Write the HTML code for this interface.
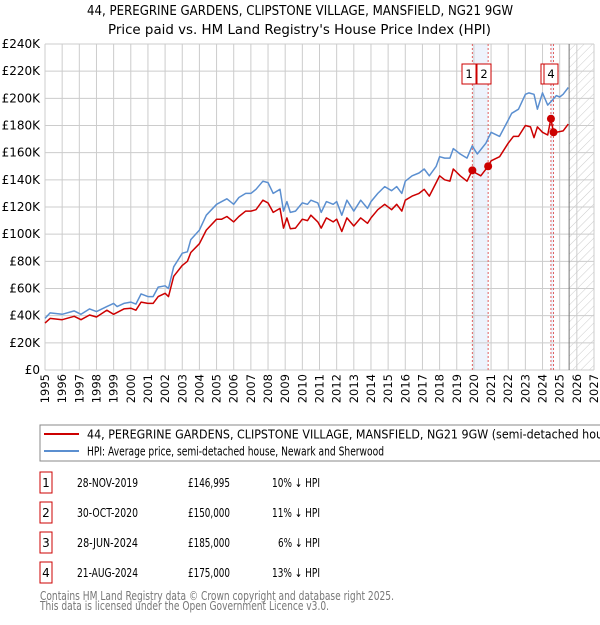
<!DOCTYPE html>
<html><head><meta charset="utf-8"><style>
body{margin:0;background:#fff;font-family:"Liberation Sans","DejaVu Sans",sans-serif;}
svg text{font-family:"DejaVu Sans","Liberation Sans",sans-serif;}
</style></head><body>
<svg id="c" width="600" height="620" xmlns="http://www.w3.org/2000/svg">
<defs><pattern id="hatch" width="6" height="6" patternUnits="userSpaceOnUse" patternTransform="rotate(45)"><line x1="0" y1="0" x2="0" y2="6" stroke="#ccc" stroke-width="1"/></pattern></defs>
<text x="87" y="15" font-size="13" textLength="426" lengthAdjust="spacingAndGlyphs">44, PEREGRINE GARDENS, CLIPSTONE VILLAGE, MANSFIELD, NG21 9GW</text>
<text x="108" y="34" font-size="13" textLength="383" lengthAdjust="spacingAndGlyphs">Price paid vs. HM Land Registry's House Price Index (HPI)</text>
<g id="plot"></g>
<rect x="40" y="425" width="570" height="36" fill="#fff" stroke="#888"/>
<line x1="44" y1="434" x2="79" y2="434" stroke="#cc0000" stroke-width="2"/>
<text x="87" y="438.5" font-size="12" textLength="533" lengthAdjust="spacingAndGlyphs">44, PEREGRINE GARDENS, CLIPSTONE VILLAGE, MANSFIELD, NG21 9GW (semi-detached house)</text>
<line x1="44" y1="451" x2="79" y2="451" stroke="#5b8fd0" stroke-width="2"/>
<text x="87" y="455.5" font-size="12" textLength="297" lengthAdjust="spacingAndGlyphs">HPI: Average price, semi-detached house, Newark and Sherwood</text>
<g id="table" font-size="12"></g>
<text x="40" y="600" font-size="12" fill="#777" textLength="354" lengthAdjust="spacingAndGlyphs">Contains HM Land Registry data © Crown copyright and database right 2025.</text>
<text x="40" y="610" font-size="12" fill="#777" textLength="289" lengthAdjust="spacingAndGlyphs">This data is licensed under the Open Government Licence v3.0.</text>
</svg>
<script>
const hpiT=[1995,1995.3,1996,1996.7,1997.1,1997.6,1998,1998.6,1999,1999.2,1999.6,2000,2000.3,2000.6,2001,2001.3,2001.6,2002,2002.2,2002.5,2003,2003.3,2003.5,2004,2004.4,2005,2005.3,2005.6,2006,2006.3,2006.7,2007,2007.3,2007.7,2008,2008.3,2008.7,2008.9,2009.1,2009.3,2009.6,2010,2010.3,2010.5,2010.9,2011.1,2011.4,2011.8,2012,2012.3,2012.6,2013,2013.4,2013.8,2014,2014.4,2014.8,2015.2,2015.5,2015.8,2016,2016.4,2016.8,2017.1,2017.4,2017.8,2018,2018.3,2018.6,2018.8,2019.2,2019.6,2019.9,2020.1,2020.2,2020.7,2021,2021.5,2022,2022.2,2022.6,2023,2023.2,2023.5,2023.7,2024,2024.3,2024.6,2024.8,2025,2025.2,2025.5];
const hpiV=[38,42,41,43.5,41,45,43,46.7,49,46.7,49,50,48.5,56,54,54,61,62,60,76,86,87,96,103,114,122,124,126,122,127,130,130,133,139,138,130,133,117,124,116,117,123,122,125,123,116,124,122,124,114,125,117,125,119,124,130,135,132,135,130,139,143,145,148,143,150,157,156,156,163,159,156,165,161,159,167,175,172,184,189,192,203,204,203,192,204,195,199,202,201,203,208];
const priceT=[1995,1995.3,1996,1996.7,1997.1,1997.6,1998,1998.6,1999,1999.6,2000,2000.3,2000.6,2001,2001.3,2001.6,2002,2002.2,2002.5,2003,2003.3,2003.5,2004,2004.4,2005,2005.3,2005.6,2006,2006.3,2006.7,2007,2007.3,2007.7,2008,2008.3,2008.7,2008.9,2009.1,2009.3,2009.6,2010,2010.3,2010.5,2010.9,2011.1,2011.4,2011.8,2012,2012.3,2012.6,2013,2013.4,2013.8,2014,2014.4,2014.8,2015.2,2015.5,2015.8,2016,2016.4,2016.8,2017.1,2017.4,2017.8,2018,2018.3,2018.6,2018.8,2019.2,2019.6,2019.91,2020.1,2020.4,2020.83,2021,2021.5,2022,2022.3,2022.6,2023,2023.3,2023.5,2023.7,2024,2024.3,2024.49,2024.64,2024.8,2025.2,2025.5];
const priceV=[34.5,38,37,39.5,37,40.5,39,44,41,45,45.5,44,50,49,49,54,56.5,54,69,77,80,86.5,93,103,111,111,113,109,113,117,117,118,125,123,116,119,104.5,112,104,104.5,111,110,114,109,104.5,112,109,111,102,112,106,112,108,112,118,122,118,122,117,125,128,130,133,128,138,143,140,139,148,143,139,147,145,143,150,154,157,167,172,172,180,179,171,179,175,173,185,175,175,176,181];
const saleT=[2019.91,2020.83,2024.49,2024.64];
const saleV=[146995,150000,185000,175000];
const saleLabels=["1","2","3","4"];
const saleDates=["28-NOV-2019","30-OCT-2020","28-JUN-2024","21-AUG-2024"];
const salePrices=["£146,995","£150,000","£185,000","£175,000"];
const saleDiff=["10% ↓ HPI","11% ↓ HPI","6% ↓ HPI","13% ↓ HPI"];
const yTicks=[0,20,40,60,80,100,120,140,160,180,200,220,240];
const yTickLabels=["£0","£20K","£40K","£60K","£80K","£100K","£120K","£140K","£160K","£180K","£200K","£220K","£240K"];
const xTicks=[1995,1996,1997,1998,1999,2000,2001,2002,2003,2004,2005,2006,2007,2008,2009,2010,2011,2012,2013,2014,2015,2016,2017,2018,2019,2020,2021,2022,2023,2024,2025,2026,2027];
const NS="http://www.w3.org/2000/svg";
const X0=45,X1=594,Y0=370,Y1=44;
const xs=t=>X0+(t-1995)/32*(X1-X0);
const ys=v=>Y0-v/240*(Y0-Y1);
const plot=document.getElementById('plot');
function mk(tag,attrs,parent){const e=document.createElementNS(NS,tag);for(const k in attrs)e.setAttribute(k,attrs[k]);(parent||plot).appendChild(e);return e;}
let e=mk('rect',{x:xs(saleT[0]),y:Y1,width:xs(saleT[1])-xs(saleT[0]),height:Y0-Y1,fill:'#eef3fc'});


e=mk('rect',{x:xs(saleT[2]),y:Y1,width:xs(saleT[3])-xs(saleT[2]),height:Y0-Y1,fill:'#eef3fc'});


const tEnd=2025.55;
e=mk('rect',{x:xs(tEnd),y:Y1,width:X1-xs(tEnd),height:Y0-Y1,fill:'url(#hatch)'});


yTicks.forEach((v,i)=>{
 let g=mk('line',{x1:X0,x2:X1,y1:ys(v),y2:ys(v),stroke:'#ccc','stroke-width':1});
 
 
 let t=mk('text',{x:X0-5,y:ys(v)+4,'text-anchor':'end','font-size':12});
 t.textContent=yTickLabels[i];
 
 
});
xTicks.forEach(y=>{
 let g=mk('line',{x1:xs(y),x2:xs(y),y1:Y1,y2:Y0,stroke:'#ccc','stroke-width':1});
 
 
 let t=mk('text',{x:0,y:0,'font-size':11.5,'text-anchor':'end',transform:`translate(${xs(y)+4},${Y0+4}) rotate(-90)`});
 t.textContent=y;
 
 
});
e=mk('line',{x1:xs(tEnd),x2:xs(tEnd),y1:Y1,y2:Y0,stroke:'#777','stroke-width':1});


saleT.forEach((t,i)=>{
 let l=mk('line',{x1:xs(t),x2:xs(t),y1:Y1,y2:Y0,stroke:'#e06060','stroke-width':1,'stroke-dasharray':'2,2'});
 
 
});
function path(T,V,col,name){
 const d=T.map((t,i)=>(i?'L':'M')+xs(t).toFixed(1)+','+ys(V[i]).toFixed(1)).join('');
 let p=mk('path',{d:d,fill:'none',stroke:col,'stroke-width':1.5,'stroke-linejoin':'round'});
 
 
}
path(hpiT,hpiV,'#5b8fd0','hpi-line');
path(priceT,priceV,'#cc0000','price-line');
saleT.forEach((t,i)=>{
 let c=mk('circle',{cx:xs(t),cy:ys(saleV[i]/1000),r:4,fill:'#cc0000'});
 
 
});
const boxX=[462,477,541,544];
[0,1,2,3].forEach(i=>{
 let g=mk('g',{});
 
 
 mk('rect',{x:boxX[i],y:64,width:14,height:20,fill:'#fff',stroke:'#cc0000','stroke-width':1},g);
 let t=mk('text',{x:boxX[i]+7,y:78,'text-anchor':'middle','font-size':11.5},g);t.textContent=saleLabels[i];
});
const tb=document.getElementById('table');
const dateW=61,priceW=42;
saleLabels.forEach((s,i)=>{
 const y=483+i*30;
 let g=mk('g',{},tb);
 
 
 mk('rect',{x:40,y:y-11,width:12,height:21,fill:'#fff',stroke:'#cc0000','stroke-width':1},g);
 let t=mk('text',{x:46,y:y+4,'text-anchor':'middle'},g);t.textContent=s;
 t=mk('text',{x:107.5-dateW/2,y:y+4,textLength:dateW,lengthAdjust:'spacingAndGlyphs'},g);t.textContent=saleDates[i];
 t=mk('text',{x:188,y:y+4,textLength:priceW,lengthAdjust:'spacingAndGlyphs'},g);t.textContent=salePrices[i];
 const dw=saleDiff[i].length===9?48:42;
 t=mk('text',{x:320-dw,y:y+4,textLength:dw,lengthAdjust:'spacingAndGlyphs'},g);t.textContent=saleDiff[i];
});
</script>
</body></html>
